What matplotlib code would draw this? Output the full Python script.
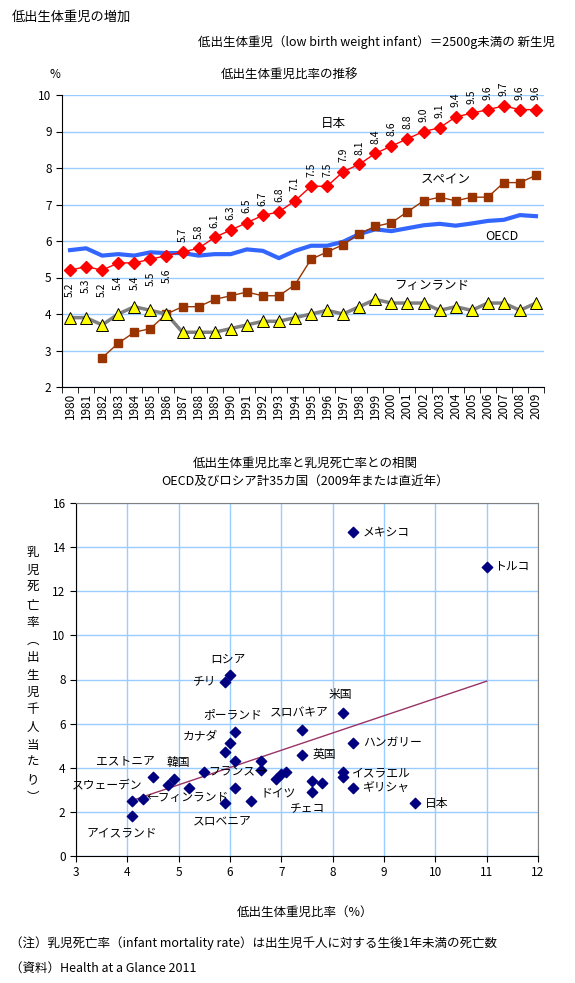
"""
低出生体重児の増加：推移グラフと乳児死亡率との相関
"""
import numpy as np
import matplotlib
matplotlib.use('Agg')
import matplotlib.pyplot as plt
from matplotlib.ticker import MultipleLocator

plt.rcParams['font.family'] = ['Noto Sans CJK JP', 'DejaVu Sans']

# ---- 上段：低出生体重児比率の推移 ----
years = list(range(1980, 2010))
japan = [5.2, 5.3, 5.2, 5.4, 5.4, 5.5, 5.6, 5.7, 5.8, 6.1, 6.3, 6.5, 6.7, 6.8, 7.1,
         7.5, 7.5, 7.9, 8.1, 8.4, 8.6, 8.8, 9.0, 9.1, 9.4, 9.5, 9.6, 9.7, 9.6, 9.6]
oecd = [5.75, 5.80, 5.60, 5.64, 5.60, 5.69, 5.67, 5.67, 5.60, 5.64, 5.64, 5.77, 5.73,
        5.53, 5.73, 5.87, 5.87, 5.98, 6.19, 6.32, 6.27, 6.35, 6.43, 6.47, 6.42, 6.48,
        6.55, 6.58, 6.71, 6.68]
spain = [None, None, 2.8, 3.2, 3.5, 3.6, 4.0, 4.2, 4.2, 4.4, 4.5, 4.6, 4.5, 4.5, 4.8,
         5.5, 5.7, 5.9, 6.2, 6.4, 6.5, 6.8, 7.1, 7.2, 7.1, 7.2, 7.2, 7.6, 7.6, 7.8]
finland = [3.9, 3.9, 3.7, 4.0, 4.2, 4.1, 4.0, 3.5, 3.5, 3.5, 3.6, 3.7, 3.8, 3.8, 3.9,
           4.0, 4.1, 4.0, 4.2, 4.4, 4.3, 4.3, 4.3, 4.1, 4.2, 4.1, 4.3, 4.3, 4.1, 4.3]

# ---- 下段：低出生体重児比率と乳児死亡率 ----
lbw = [8.4, 11.0, 6.0, 5.9, 8.2, 7.4, 6.1, 8.4, 6.0, 5.9, 7.4, 6.1, 6.6, 6.6, 5.5,
       4.5, 4.9, 4.8, 5.2, 6.1, 6.9, 7.0, 7.1, 7.6, 7.8, 7.6, 8.2, 8.2, 8.4, 9.6,
       4.1, 4.3, 4.1, 5.9, 6.4]
imr = [14.7, 13.1, 8.2, 7.9, 6.5, 5.7, 5.6, 5.1, 5.1, 4.7, 4.6, 4.3, 4.3, 3.9, 3.8,
       3.6, 3.5, 3.2, 3.1, 3.1, 3.5, 3.7, 3.8, 3.4, 3.3, 2.9, 3.8, 3.6, 3.1, 2.4,
       2.5, 2.6, 1.8, 2.4, 2.5]

# 国名ラベル（表示位置はデータ座標）
labels = [
    ('メキシコ', 8.59, 14.69, 'left'), ('トルコ', 11.15, 13.15, 'left'),
    ('ロシア', 5.96, 8.93, 'center'), ('チリ', 5.50, 7.93, 'center'),
    ('ポーランド', 6.06, 6.39, 'center'), ('スロバキア', 7.35, 6.48, 'center'),
    ('米国', 8.15, 7.30, 'center'), ('カナダ', 5.42, 5.39, 'center'),
    ('ハンガリー', 8.59, 5.12, 'left'), ('英国', 7.60, 4.62, 'left'),
    ('エストニア', 3.97, 4.31, 'center'), ('韓国', 4.99, 4.26, 'center'),
    ('フランス→', 6.14, 3.81, 'center'), ('スウェーデン', 3.60, 3.17, 'center'),
    ('←フィンランド', 4.38, 2.63, 'left'), ('イスラエル', 8.38, 3.76, 'left'),
    ('ドイツ', 6.94, 2.86, 'center'), ('ギリシャ', 8.59, 3.13, 'left'),
    ('日本', 9.80, 2.40, 'left'), ('チェコ', 7.52, 2.13, 'center'),
    ('スロベニア', 5.85, 1.59, 'center'), ('アイスランド', 3.90, 1.04, 'center'),
]

GRID = '#99CCFF'

fig = plt.figure(figsize=(5.75, 9.83), dpi=100)

fig.text(12 / 575, 1 - 17 / 983, '低出生体重児の増加', fontsize=9.5, va='center', ha='left')
fig.text(555 / 575, 1 - 42 / 983, '低出生体重児（low birth weight infant）＝2500g未満の 新生児',
         fontsize=9, va='center', ha='right')

# ===== 上段 =====
ax1 = fig.add_axes([62 / 575, 1 - 387 / 983, 482 / 575, 292 / 983])
x = np.arange(len(years))

ax1.plot(x, oecd, color='#3366FF', lw=3, zorder=3)
sp = np.array([np.nan if v is None else v for v in spain])
ax1.plot(x, sp, color='#993300', lw=1, marker='s', ms=5.5, mec='#993300', zorder=4)
ax1.plot(x, finland, color='#808080', lw=2.5, marker='^', ms=8.5, mfc='#FFFF00',
         mec='black', mew=0.7, zorder=4)
ax1.plot(x, japan, color='#FF0000', lw=1, marker='D', ms=6, zorder=5)

for i, v in enumerate(japan):
    if years[i] <= 1986:
        ax1.annotate(f'{v:.1f}', (i, v), xytext=(0, -9), textcoords='offset points',
                     rotation=90, ha='center', va='top', fontsize=7.5)
    else:
        ax1.annotate(f'{v:.1f}', (i, v), xytext=(0, 7), textcoords='offset points',
                     rotation=90, ha='center', va='bottom', fontsize=7.5)

ax1.text(16.4, 9.23, '日本', fontsize=9, ha='center', va='center')
ax1.text(23.4, 7.67, 'スペイン', fontsize=9, ha='center', va='center')
ax1.text(26.9, 6.11, 'OECD', fontsize=9, ha='center', va='center')
ax1.text(22.5, 4.77, 'フィンランド', fontsize=9, ha='center', va='center')

ax1.set_xlim(-0.5, len(years) - 0.5)
ax1.set_ylim(2, 10)
ax1.yaxis.set_major_locator(MultipleLocator(1))
ax1.set_xticks(x)
ax1.set_xticklabels([str(y) for y in years], rotation=90, fontsize=8.5)
ax1.set_xticks(np.arange(-0.5, len(years)), minor=True)
ax1.tick_params(axis='x', which='major', length=0, pad=4)
ax1.tick_params(axis='x', which='minor', length=4, direction='out')
ax1.tick_params(axis='y', labelsize=8.5, length=4, direction='out')
ax1.grid(axis='y', color=GRID, lw=1)
ax1.set_axisbelow(True)
for s in ['top', 'right']:
    ax1.spines[s].set_visible(False)
ax1.spines['left'].set_color('black')
ax1.spines['bottom'].set_color('black')

fig.text(55 / 575, 1 - 75 / 983, '%', fontsize=8.5, ha='center', va='center')
fig.text(290 / 575, 1 - 75 / 983, '低出生体重児比率の推移', fontsize=9, ha='center', va='center')

# ===== 下段 =====
ax2 = fig.add_axes([76 / 575, 1 - 856 / 983, 462 / 575, 353 / 983])
ax2.scatter(lbw, imr, marker='D', s=28, color='#000080', zorder=4)

# 線形近似
coef = np.polyfit(lbw, imr, 1)
xs = np.array([min(lbw), max(lbw)])
ax2.plot(xs, np.polyval(coef, xs), color='#993366', lw=1, zorder=3)

for name, lx, ly, ha in labels:
    ax2.text(lx, ly, name, fontsize=8.5, ha=ha, va='center', zorder=5)

ax2.set_xlim(3, 12)
ax2.set_ylim(0, 16)
ax2.xaxis.set_major_locator(MultipleLocator(1))
ax2.yaxis.set_major_locator(MultipleLocator(2))
ax2.tick_params(labelsize=8.5, length=4, direction='out')
ax2.grid(True, color=GRID, lw=1)
ax2.set_axisbelow(True)
ax2.spines['top'].set_color('#808080')
ax2.spines['right'].set_color('#808080')

fig.text(305 / 575, 1 - 463 / 983, '低出生体重児比率と乳児死亡率との相関', fontsize=9,
         ha='center', va='center')
fig.text(305 / 575, 1 - 481 / 983, 'OECD及びロシア計35カ国（2009年または直近年）', fontsize=9,
         ha='center', va='center')
fig.text(305 / 575, 1 - 912 / 983, '低出生体重児比率（%）', fontsize=9, ha='center', va='center')
fig.text(33 / 575, 1 - 675 / 983, '\n'.join('乳児死亡率︵出生児千人当たり︶'), fontsize=9,
         ha='center', va='center', linespacing=1.45)

fig.text(10 / 575, 1 - 943 / 983,
         '（注）乳児死亡率（infant mortality rate）は出生児千人に対する生後1年未満の死亡数',
         fontsize=9, ha='left', va='center')
fig.text(10 / 575, 1 - 968 / 983, '（資料）Health at a Glance 2011', fontsize=9,
         ha='left', va='center')

fig.savefig('out.png', dpi=100)
